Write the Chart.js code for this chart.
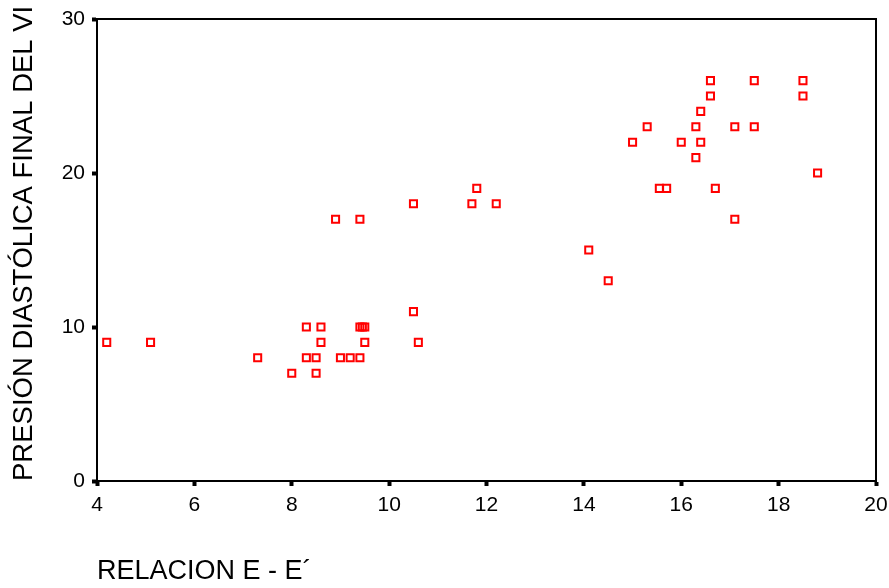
<!DOCTYPE html>
<html>
<head>
<meta charset="utf-8">
<script src="https://cdn.jsdelivr.net/npm/chart.js@4"></script>
<style>
  html, body { margin: 0; padding: 0; background: #ffffff; }
  #wrap { width: 889px; height: 588px; position: relative; }
</style>
</head>
<body>
<div id="wrap"><canvas id="chart"></canvas></div>
<script>
// E/E' ratio for each patient
const relacionEE = [
  4.2, 5.1, 7.3, 8.0, 8.3, 8.3, 8.5, 8.5, 8.6, 8.6,
  8.9, 9.0, 9.2, 9.4, 9.4, 9.4, 9.45, 9.5, 9.5, 10.5,
  10.5, 10.6, 11.7, 11.8, 12.2, 14.1, 14.5, 15.0, 15.3, 15.55,
  15.7, 16.0, 16.3, 16.3, 16.4, 16.4, 16.6, 16.6, 16.7, 17.1,
  17.1, 17.5, 17.5, 18.5, 18.5, 18.8
];
// Left ventricular end-diastolic pressure for each patient
const presionDiastolica = [
  9, 9, 8, 7, 10, 8, 8, 7, 9, 10,
  17, 8, 8, 8, 17, 10, 10, 10, 9, 11,
  18, 9, 18, 19, 18, 15, 13, 22, 23, 19,
  19, 22, 21, 23, 22, 24, 25, 26, 19, 17,
  23, 23, 26, 26, 25, 20
];
const xTicks = [4, 6, 8, 10, 12, 14, 16, 18, 20];
const yTicks = [0, 10, 20, 30];

const xTitle = 'RELACION E - E\u00B4';
const yTitle = 'PRESIÓN DIASTÓLICA FINAL DEL VI';

const points = relacionEE.map((x, i) => ({ x: x, y: presionDiastolica[i] }));

// Closes the plot frame along the top and right edges
const frame = {
  id: 'frame',
  afterDatasetsDraw(chart) {
    const { ctx, chartArea: a } = chart;
    ctx.save();
    ctx.strokeStyle = '#000000';
    ctx.lineWidth = 2;
    ctx.beginPath();
    ctx.moveTo(a.left, a.top);
    ctx.lineTo(a.right, a.top);
    ctx.lineTo(a.right, a.bottom);
    ctx.stroke();
    ctx.restore();
  }
};

const tickFont = { family: '"Liberation Sans", Arial, sans-serif', size: 21 };
const xTitleFont = { family: '"Liberation Sans", Arial, sans-serif', size: 27 };
const yTitleFont = { family: '"Liberation Sans", Arial, sans-serif', size: 27.5 };

new Chart(document.getElementById('chart'), {
  type: 'scatter',
  data: {
    datasets: [{
      data: points,
      pointStyle: 'rect',
      pointRadius: 5,
      pointHoverRadius: 5,
      borderWidth: 2,
      borderColor: '#ff0000',
      backgroundColor: 'rgba(0,0,0,0)'
    }]
  },
  options: {
    responsive: true,
    maintainAspectRatio: false,
    animation: false,
    events: [],
    layout: { padding: { top: 19, right: 13, left: 0, bottom: 0 } },
    plugins: { legend: { display: false }, tooltip: { enabled: false } },
    scales: {
      x: {
        type: 'linear',
        min: 4, max: 20,
        afterBuildTicks(scale) { scale.ticks = xTicks.map(v => ({ value: v })); },
        afterFit(scale) {
          scale.height = 107;
          scale.paddingLeft = 0;
          scale.paddingRight = 0;
        },
        border: { display: true, color: '#000000', width: 2 },
        grid: { drawOnChartArea: false, drawTicks: true, tickLength: 5, tickWidth: 4, tickColor: '#000000' },
        ticks: { color: '#000000', font: tickFont, padding: 7, maxRotation: 0 },
        title: { display: true, text: xTitle, color: '#000000', font: xTitleFont, align: 'start', padding: { top: 0, bottom: 0 } }
      },
      y: {
        type: 'linear',
        min: 0, max: 30,
        afterBuildTicks(scale) { scale.ticks = yTicks.map(v => ({ value: v })); },
        afterFit(scale) {
          scale.width = 97;
          scale.paddingTop = 0;
          scale.paddingBottom = 0;
        },
        border: { display: true, color: '#000000', width: 2 },
        grid: { drawOnChartArea: false, drawTicks: true, tickLength: 5, tickWidth: 4, tickColor: '#000000' },
        ticks: { color: '#000000', font: tickFont, padding: 7 },
        title: { display: true, text: yTitle, color: '#000000', font: yTitleFont, align: 'start', padding: { top: 8, bottom: 0 } }
      }
    }
  },
  plugins: [frame]
});
</script>
</body>
</html>
